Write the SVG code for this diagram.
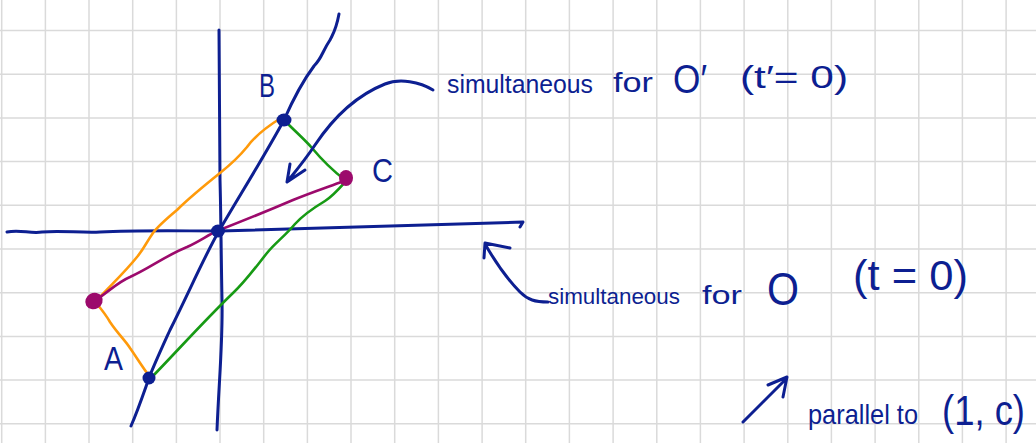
<svg xmlns="http://www.w3.org/2000/svg" width="1036" height="443" viewBox="0 0 1036 443">
<style>
.grid line{stroke:#dadada;stroke-width:1.5}
.ink{fill:none;stroke:#0d1f91;stroke-width:3;stroke-linecap:round;stroke-linejoin:round}
.or{fill:none;stroke:#ff9a0a;stroke-width:2.6;stroke-linecap:round;stroke-linejoin:round}
.gr{fill:none;stroke:#179a14;stroke-width:2.6;stroke-linecap:round;stroke-linejoin:round}
.mg{fill:none;stroke:#9c0a6c;stroke-width:2.6;stroke-linecap:round;stroke-linejoin:round}
.t{font-family:"Liberation Sans","DejaVu Sans",sans-serif;fill:#0d1f91}
</style>
<rect width="1036" height="443" fill="#ffffff"/>
<g class="grid" id="grid">
<line x1="1.7" y1="0" x2="1.7" y2="443"/><line x1="45.4" y1="0" x2="45.4" y2="443"/><line x1="89" y1="0" x2="89" y2="443"/><line x1="132.7" y1="0" x2="132.7" y2="443"/><line x1="176.4" y1="0" x2="176.4" y2="443"/><line x1="220" y1="0" x2="220" y2="443"/><line x1="263.7" y1="0" x2="263.7" y2="443"/><line x1="307.4" y1="0" x2="307.4" y2="443"/><line x1="351" y1="0" x2="351" y2="443"/><line x1="394.7" y1="0" x2="394.7" y2="443"/><line x1="438.4" y1="0" x2="438.4" y2="443"/><line x1="482.1" y1="0" x2="482.1" y2="443"/><line x1="525.7" y1="0" x2="525.7" y2="443"/><line x1="569.4" y1="0" x2="569.4" y2="443"/><line x1="613.1" y1="0" x2="613.1" y2="443"/><line x1="656.8" y1="0" x2="656.8" y2="443"/><line x1="700.4" y1="0" x2="700.4" y2="443"/><line x1="744.1" y1="0" x2="744.1" y2="443"/><line x1="787.8" y1="0" x2="787.8" y2="443"/><line x1="831.4" y1="0" x2="831.4" y2="443"/><line x1="875.1" y1="0" x2="875.1" y2="443"/><line x1="918.8" y1="0" x2="918.8" y2="443"/><line x1="962.4" y1="0" x2="962.4" y2="443"/><line x1="1006.1" y1="0" x2="1006.1" y2="443"/>
<line x1="0" y1="30.5" x2="1036" y2="30.5"/><line x1="0" y1="74.2" x2="1036" y2="74.2"/><line x1="0" y1="117.9" x2="1036" y2="117.9"/><line x1="0" y1="161.6" x2="1036" y2="161.6"/><line x1="0" y1="205.3" x2="1036" y2="205.3"/><line x1="0" y1="249" x2="1036" y2="249"/><line x1="0" y1="292.7" x2="1036" y2="292.7"/><line x1="0" y1="336.4" x2="1036" y2="336.4"/><line x1="0" y1="380.1" x2="1036" y2="380.1"/><line x1="0" y1="423.8" x2="1036" y2="423.8"/>
</g>
<g id="axes">
<path class="ink" d="M219,30 C219,80 220,130 220,180 C221,215 221,250 222,300 C223,340 219,380 217,430"/>
<path class="ink" d="M7,232 C20,229 30,234 42,232 C60,230 80,233 100,232 C140,230 180,231 220,231 C320,228 420,225 523,222 L520,227"/>
<path class="ink" d="M339,14 C336,30 334,32 330,40 C322,52 322,58 314,66 C305,78 295,95 284,120 C265,155 240,195 219,231 C205,255 190,290 170,330 C160,352 154,365 149,378 C143,395 138,410 131,426"/>
</g>
<g id="connectors">
<path class="or" d="M281,118 C268,126 255,136 247,147 C238,158 230,165 220,173 C205,185 190,197 177,210 C165,220 158,226 153,233 C146,243 143,250 137,257 C125,272 112,284 97,300"/>
<path class="or" d="M97,304 C102,310 106,315 110,322 C118,334 125,340 130,348 C137,358 143,368 150,377"/>
<path class="gr" d="M286,122 C298,134 305,140 312,148 C322,160 332,170 345,180"/>
<path class="gr" d="M346,181 C338,190 333,196 325,201 C315,207 305,213 295,224 C285,236 275,243 267,253 C255,268 245,282 233,293 C205,320 180,348 152,377"/>
<path class="mg" d="M96,300 C108,292 118,282 130,277 C150,268 165,256 187,247 C200,241 208,235 217,231 C240,222 265,212 293,200 C310,193 325,188 344,181"/>
<path class="ink" d="M433,90 C420,82 400,78 385,84 C360,94 335,115 315,145 C305,160 295,172 287,182 M290,164 L287,182 L305,170"/>
<path class="ink" d="M548,302 C535,302 528,300 520,292 C510,282 500,270 485,244 M484,258 L485,243 L510,248"/>
<path class="ink" d="M743,422 L786,379 M768,385 L787,377 L783,397"/>
</g>
<g id="point-B"><ellipse cx="284" cy="120" rx="7.5" ry="6.5" fill="#0d1f91"/><text class="t" x="259" y="97" font-size="34" textLength="16" lengthAdjust="spacingAndGlyphs">B</text></g>
<g id="point-O"><ellipse cx="218" cy="231" rx="7" ry="6.5" fill="#0d1f91"/></g>
<g id="point-C"><ellipse cx="346" cy="178" rx="7" ry="8" fill="#9c0a6c"/><text class="t" x="372" y="182" font-size="34" textLength="21" lengthAdjust="spacingAndGlyphs">C</text></g>
<g id="point-A"><ellipse cx="94" cy="301" rx="9" ry="8" fill="#9c0a6c" transform="rotate(-30 94 301)"/><text class="t" x="104" y="370" font-size="34" textLength="19" lengthAdjust="spacingAndGlyphs">A</text></g>
<g id="point-D"><ellipse cx="149" cy="378" rx="6.5" ry="6.5" fill="#0d1f91"/></g>
<g id="label-Oprime">
<text class="t" x="447" y="93" font-size="26" textLength="146" lengthAdjust="spacingAndGlyphs">simultaneous</text>
<text class="t" x="613" y="92" font-size="28" textLength="40" lengthAdjust="spacingAndGlyphs">for</text>
<text class="t" x="673" y="93" font-size="40" textLength="34" lengthAdjust="spacingAndGlyphs">O′</text>
<text class="t" x="740" y="88" font-size="32" textLength="108" lengthAdjust="spacingAndGlyphs">(t′= 0)</text>
</g>
<g id="label-O">
<text class="t" x="548" y="304" font-size="22" textLength="132" lengthAdjust="spacingAndGlyphs">simultaneous</text>
<text class="t" x="702" y="304" font-size="26" textLength="40" lengthAdjust="spacingAndGlyphs">for</text>
<text class="t" x="767" y="305" font-size="46" textLength="32" lengthAdjust="spacingAndGlyphs">O</text>
<text class="t" x="853" y="290" font-size="42" textLength="115" lengthAdjust="spacingAndGlyphs">(t = 0)</text>
</g>
<g id="label-parallel">
<text class="t" x="808" y="424" font-size="28" textLength="110" lengthAdjust="spacingAndGlyphs">parallel to</text>
<text class="t" x="942" y="425" font-size="42" textLength="83" lengthAdjust="spacingAndGlyphs">(1, c)</text>
</g>
</svg>
